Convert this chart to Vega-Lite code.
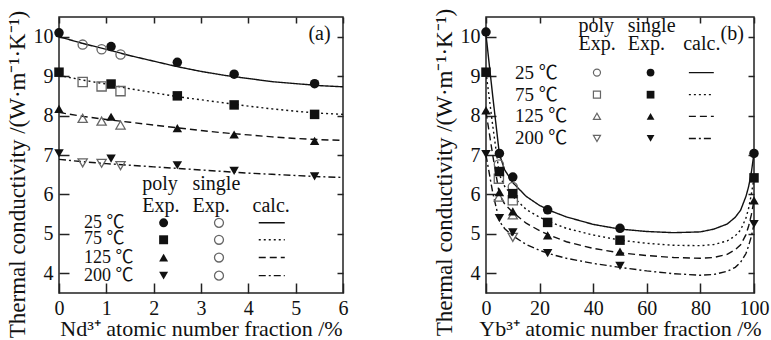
{
  "$schema": "https://vega.github.io/schema/vega-lite/v6.json",
  "padding": {"left": 5, "top": 7, "right": 5, "bottom": 0},
  "autosize": {"type": "pad"},
  "config": {
    "view": {"stroke": "#222", "strokeWidth": 1.5},
    "font": "Liberation Serif",
    "axis": {
      "labelFont": "Liberation Serif", "labelFontSize": 20, "labelColor": "#111",
      "titleFont": "Liberation Serif", "titleFontSize": 22, "titleFontWeight": "normal", "titleColor": "#111",
      "grid": false, "domain": false, "tickColor": "#222", "tickWidth": 1.5, "tickSize": -10, "labelPadding": 16,
      "labelFlush": false, "labelOverlap": false
    },
    "concat": {"spacing": 83}
  },
  "datasets": {
    "aPts": [
      {"x": 0, "y": 10.1, "T": "25", "k": "poly"}, {"x": 1.1, "y": 9.75, "T": "25", "k": "poly"}, {"x": 2.5, "y": 9.35, "T": "25", "k": "poly"}, {"x": 3.7, "y": 9.05, "T": "25", "k": "poly"}, {"x": 5.4, "y": 8.81, "T": "25", "k": "poly"},
      {"x": 0, "y": 9.1, "T": "75", "k": "poly"}, {"x": 1.1, "y": 8.8, "T": "75", "k": "poly"}, {"x": 2.5, "y": 8.5, "T": "75", "k": "poly"}, {"x": 3.7, "y": 8.27, "T": "75", "k": "poly"}, {"x": 5.4, "y": 8.03, "T": "75", "k": "poly"},
      {"x": 0, "y": 8.17, "T": "125", "k": "poly"}, {"x": 1.1, "y": 7.97, "T": "125", "k": "poly"}, {"x": 2.5, "y": 7.68, "T": "125", "k": "poly"}, {"x": 3.7, "y": 7.52, "T": "125", "k": "poly"}, {"x": 5.4, "y": 7.36, "T": "125", "k": "poly"},
      {"x": 0, "y": 7.04, "T": "200", "k": "poly"}, {"x": 1.1, "y": 6.91, "T": "200", "k": "poly"}, {"x": 2.5, "y": 6.74, "T": "200", "k": "poly"}, {"x": 3.7, "y": 6.6, "T": "200", "k": "poly"}, {"x": 5.4, "y": 6.46, "T": "200", "k": "poly"},
      {"x": 0.5, "y": 9.8, "T": "25", "k": "single"}, {"x": 0.9, "y": 9.68, "T": "25", "k": "single"}, {"x": 1.3, "y": 9.55, "T": "25", "k": "single"},
      {"x": 0.5, "y": 8.85, "T": "75", "k": "single"}, {"x": 0.9, "y": 8.74, "T": "75", "k": "single"}, {"x": 1.3, "y": 8.62, "T": "75", "k": "single"},
      {"x": 0.5, "y": 7.93, "T": "125", "k": "single"}, {"x": 0.9, "y": 7.86, "T": "125", "k": "single"}, {"x": 1.3, "y": 7.76, "T": "125", "k": "single"},
      {"x": 0.5, "y": 6.8, "T": "200", "k": "single"}, {"x": 0.9, "y": 6.79, "T": "200", "k": "single"}, {"x": 1.3, "y": 6.73, "T": "200", "k": "single"}
    ],
    "aCalc": [
      {"x": 0, "y": 10.0, "T": "25"}, {"x": 0.5, "y": 9.83, "T": "25"}, {"x": 1, "y": 9.68, "T": "25"}, {"x": 1.5, "y": 9.52, "T": "25"}, {"x": 2, "y": 9.38, "T": "25"}, {"x": 2.5, "y": 9.24, "T": "25"}, {"x": 3, "y": 9.12, "T": "25"}, {"x": 3.5, "y": 9.02, "T": "25"}, {"x": 4, "y": 8.94, "T": "25"}, {"x": 4.5, "y": 8.86, "T": "25"}, {"x": 5, "y": 8.81, "T": "25"}, {"x": 5.5, "y": 8.76, "T": "25"}, {"x": 6, "y": 8.73, "T": "25"},
      {"x": 0, "y": 9.02, "T": "75"}, {"x": 0.5, "y": 8.9, "T": "75"}, {"x": 1, "y": 8.8, "T": "75"}, {"x": 1.5, "y": 8.68, "T": "75"}, {"x": 2, "y": 8.58, "T": "75"}, {"x": 2.5, "y": 8.48, "T": "75"}, {"x": 3, "y": 8.4, "T": "75"}, {"x": 3.5, "y": 8.32, "T": "75"}, {"x": 4, "y": 8.24, "T": "75"}, {"x": 4.5, "y": 8.17, "T": "75"}, {"x": 5, "y": 8.11, "T": "75"}, {"x": 5.5, "y": 8.06, "T": "75"}, {"x": 6, "y": 8.03, "T": "75"},
      {"x": 0, "y": 8.08, "T": "125"}, {"x": 0.5, "y": 7.98, "T": "125"}, {"x": 1, "y": 7.9, "T": "125"}, {"x": 1.5, "y": 7.83, "T": "125"}, {"x": 2, "y": 7.76, "T": "125"}, {"x": 2.5, "y": 7.69, "T": "125"}, {"x": 3, "y": 7.62, "T": "125"}, {"x": 3.5, "y": 7.56, "T": "125"}, {"x": 4, "y": 7.51, "T": "125"}, {"x": 4.5, "y": 7.46, "T": "125"}, {"x": 5, "y": 7.42, "T": "125"}, {"x": 5.5, "y": 7.39, "T": "125"}, {"x": 6, "y": 7.37, "T": "125"},
      {"x": 0, "y": 6.89, "T": "200"}, {"x": 0.5, "y": 6.83, "T": "200"}, {"x": 1, "y": 6.78, "T": "200"}, {"x": 1.5, "y": 6.74, "T": "200"}, {"x": 2, "y": 6.7, "T": "200"}, {"x": 2.5, "y": 6.66, "T": "200"}, {"x": 3, "y": 6.62, "T": "200"}, {"x": 3.5, "y": 6.58, "T": "200"}, {"x": 4, "y": 6.54, "T": "200"}, {"x": 4.5, "y": 6.51, "T": "200"}, {"x": 5, "y": 6.48, "T": "200"}, {"x": 5.5, "y": 6.45, "T": "200"}, {"x": 6, "y": 6.43, "T": "200"}
    ],
    "aLegSym": [
      {"x": 2.21, "y": 5.28, "T": "25"}, {"x": 2.21, "y": 4.85, "T": "75"}, {"x": 2.21, "y": 4.4, "T": "125"}, {"x": 2.21, "y": 3.94, "T": "200"}
    ],
    "aLegOpen": [
      {"x": 3.38, "y": 5.28, "T": "25"}, {"x": 3.38, "y": 4.85, "T": "75"}, {"x": 3.38, "y": 4.4, "T": "125"}, {"x": 3.38, "y": 3.94, "T": "200"}
    ],
    "aLegLine": [
      {"x": 4.22, "y": 5.28, "T": "25"}, {"x": 4.77, "y": 5.28, "T": "25"},
      {"x": 4.22, "y": 4.85, "T": "75"}, {"x": 4.77, "y": 4.85, "T": "75"},
      {"x": 4.22, "y": 4.4, "T": "125"}, {"x": 4.77, "y": 4.4, "T": "125"},
      {"x": 4.22, "y": 3.94, "T": "200"}, {"x": 4.77, "y": 3.94, "T": "200"}
    ],
    "aHead": [
      {"x": 1.76, "y": 6.26, "t": "poly"}, {"x": 2.82, "y": 6.26, "t": "single"},
      {"x": 1.76, "y": 5.7, "t": "Exp."}, {"x": 2.82, "y": 5.7, "t": "Exp."}, {"x": 4.09, "y": 5.7, "t": "calc."},
      {"x": 5.27, "y": 10.07, "t": "(a)"}
    ],
    "aTemp": [
      {"x": 0.53, "y": 5.27, "t": "25 ℃"}, {"x": 0.53, "y": 4.86, "t": "75 ℃"}, {"x": 0.53, "y": 4.4, "t": "125 ℃"}, {"x": 0.53, "y": 3.94, "t": "200 ℃"}
    ],
    "bPts": [
      {"x": 0, "y": 10.12, "T": "25", "k": "single"}, {"x": 5, "y": 7.04, "T": "25", "k": "single"}, {"x": 10, "y": 6.44, "T": "25", "k": "single"}, {"x": 23, "y": 5.61, "T": "25", "k": "single"}, {"x": 50, "y": 5.14, "T": "25", "k": "single"}, {"x": 100, "y": 7.04, "T": "25", "k": "single"},
      {"x": 0, "y": 9.1, "T": "75", "k": "single"}, {"x": 5, "y": 6.58, "T": "75", "k": "single"}, {"x": 10, "y": 6.02, "T": "75", "k": "single"}, {"x": 23, "y": 5.29, "T": "75", "k": "single"}, {"x": 50, "y": 4.84, "T": "75", "k": "single"}, {"x": 100, "y": 6.42, "T": "75", "k": "single"},
      {"x": 0, "y": 8.13, "T": "125", "k": "single"}, {"x": 5, "y": 6.06, "T": "125", "k": "single"}, {"x": 10, "y": 5.57, "T": "125", "k": "single"}, {"x": 23, "y": 4.96, "T": "125", "k": "single"}, {"x": 50, "y": 4.55, "T": "125", "k": "single"}, {"x": 100, "y": 5.85, "T": "125", "k": "single"},
      {"x": 0, "y": 7.02, "T": "200", "k": "single"}, {"x": 5, "y": 5.4, "T": "200", "k": "single"}, {"x": 10, "y": 5.04, "T": "200", "k": "single"}, {"x": 23, "y": 4.51, "T": "200", "k": "single"}, {"x": 50, "y": 4.19, "T": "200", "k": "single"}, {"x": 100, "y": 5.25, "T": "200", "k": "single"},
      {"x": 4.8, "y": 6.76, "T": "25", "k": "poly"}, {"x": 10, "y": 6.19, "T": "25", "k": "poly"},
      {"x": 4.8, "y": 6.4, "T": "75", "k": "poly"}, {"x": 10, "y": 5.85, "T": "75", "k": "poly"},
      {"x": 4.8, "y": 5.93, "T": "125", "k": "poly"}, {"x": 10, "y": 5.48, "T": "125", "k": "poly"},
      {"x": 10, "y": 4.91, "T": "200", "k": "poly"}
    ],
    "bCalc": [
      {"x": 0, "y": 10.05, "T": "25"}, {"x": 2.5, "y": 8.5, "T": "25"}, {"x": 5, "y": 7.02, "T": "25"}, {"x": 7, "y": 6.62, "T": "25"}, {"x": 10, "y": 6.3, "T": "25"}, {"x": 15, "y": 5.95, "T": "25"}, {"x": 20, "y": 5.72, "T": "25"}, {"x": 25, "y": 5.56, "T": "25"}, {"x": 30, "y": 5.43, "T": "25"}, {"x": 40, "y": 5.24, "T": "25"}, {"x": 50, "y": 5.12, "T": "25"}, {"x": 60, "y": 5.06, "T": "25"}, {"x": 70, "y": 5.03, "T": "25"}, {"x": 80, "y": 5.05, "T": "25"}, {"x": 85, "y": 5.12, "T": "25"}, {"x": 90, "y": 5.25, "T": "25"}, {"x": 93, "y": 5.42, "T": "25"}, {"x": 95, "y": 5.6, "T": "25"}, {"x": 97, "y": 5.95, "T": "25"}, {"x": 98, "y": 6.2, "T": "25"}, {"x": 99, "y": 6.55, "T": "25"}, {"x": 100, "y": 7.05, "T": "25"},
      {"x": 0, "y": 9.1, "T": "75"}, {"x": 2.5, "y": 7.75, "T": "75"}, {"x": 5, "y": 6.5, "T": "75"}, {"x": 7, "y": 6.2, "T": "75"}, {"x": 10, "y": 5.95, "T": "75"}, {"x": 15, "y": 5.62, "T": "75"}, {"x": 20, "y": 5.42, "T": "75"}, {"x": 25, "y": 5.27, "T": "75"}, {"x": 30, "y": 5.14, "T": "75"}, {"x": 40, "y": 4.97, "T": "75"}, {"x": 50, "y": 4.84, "T": "75"}, {"x": 60, "y": 4.76, "T": "75"}, {"x": 70, "y": 4.71, "T": "75"}, {"x": 80, "y": 4.7, "T": "75"}, {"x": 85, "y": 4.73, "T": "75"}, {"x": 90, "y": 4.82, "T": "75"}, {"x": 93, "y": 4.95, "T": "75"}, {"x": 95, "y": 5.1, "T": "75"}, {"x": 97, "y": 5.4, "T": "75"}, {"x": 98, "y": 5.65, "T": "75"}, {"x": 99, "y": 6.0, "T": "75"}, {"x": 100, "y": 6.42, "T": "75"},
      {"x": 0, "y": 8.1, "T": "125"}, {"x": 2.5, "y": 7.0, "T": "125"}, {"x": 5, "y": 6.0, "T": "125"}, {"x": 7, "y": 5.75, "T": "125"}, {"x": 10, "y": 5.55, "T": "125"}, {"x": 15, "y": 5.27, "T": "125"}, {"x": 20, "y": 5.08, "T": "125"}, {"x": 25, "y": 4.93, "T": "125"}, {"x": 30, "y": 4.8, "T": "125"}, {"x": 40, "y": 4.63, "T": "125"}, {"x": 50, "y": 4.52, "T": "125"}, {"x": 60, "y": 4.45, "T": "125"}, {"x": 70, "y": 4.4, "T": "125"}, {"x": 80, "y": 4.38, "T": "125"}, {"x": 85, "y": 4.4, "T": "125"}, {"x": 90, "y": 4.48, "T": "125"}, {"x": 93, "y": 4.6, "T": "125"}, {"x": 95, "y": 4.72, "T": "125"}, {"x": 97, "y": 4.98, "T": "125"}, {"x": 98, "y": 5.2, "T": "125"}, {"x": 99, "y": 5.48, "T": "125"}, {"x": 100, "y": 5.85, "T": "125"},
      {"x": 0, "y": 7.0, "T": "200"}, {"x": 1, "y": 6.62, "T": "200"}, {"x": 2.5, "y": 6.05, "T": "200"}, {"x": 5, "y": 5.32, "T": "200"}, {"x": 7, "y": 5.13, "T": "200"}, {"x": 10, "y": 4.95, "T": "200"}, {"x": 15, "y": 4.73, "T": "200"}, {"x": 20, "y": 4.58, "T": "200"}, {"x": 25, "y": 4.47, "T": "200"}, {"x": 30, "y": 4.38, "T": "200"}, {"x": 40, "y": 4.25, "T": "200"}, {"x": 50, "y": 4.15, "T": "200"}, {"x": 60, "y": 4.06, "T": "200"}, {"x": 70, "y": 3.99, "T": "200"}, {"x": 80, "y": 3.95, "T": "200"}, {"x": 85, "y": 3.97, "T": "200"}, {"x": 90, "y": 4.05, "T": "200"}, {"x": 93, "y": 4.15, "T": "200"}, {"x": 95, "y": 4.28, "T": "200"}, {"x": 97, "y": 4.5, "T": "200"}, {"x": 98, "y": 4.7, "T": "200"}, {"x": 99, "y": 4.93, "T": "200"}, {"x": 100, "y": 5.25, "T": "200"}
    ],
    "bLegOpen": [
      {"x": 41.4, "y": 9.09, "T": "25"}, {"x": 41.4, "y": 8.53, "T": "75"}, {"x": 41.4, "y": 7.98, "T": "125"}, {"x": 41.4, "y": 7.42, "T": "200"}
    ],
    "bLegFill": [
      {"x": 61.4, "y": 9.09, "T": "25"}, {"x": 61.4, "y": 8.53, "T": "75"}, {"x": 61.4, "y": 7.98, "T": "125"}, {"x": 61.4, "y": 7.42, "T": "200"}
    ],
    "bLegLine": [
      {"x": 75.7, "y": 9.09, "T": "25"}, {"x": 85, "y": 9.09, "T": "25"},
      {"x": 75.7, "y": 8.53, "T": "75"}, {"x": 85, "y": 8.53, "T": "75"},
      {"x": 75.7, "y": 7.98, "T": "125"}, {"x": 85, "y": 7.98, "T": "125"},
      {"x": 75.7, "y": 7.42, "T": "200"}, {"x": 85, "y": 7.42, "T": "200"}
    ],
    "bHead": [
      {"x": 34.5, "y": 10.28, "t": "poly"}, {"x": 52.9, "y": 10.28, "t": "single"},
      {"x": 34.5, "y": 9.81, "t": "Exp."}, {"x": 52.9, "y": 9.81, "t": "Exp."}, {"x": 73.6, "y": 9.81, "t": "calc."},
      {"x": 87.5, "y": 10.07, "t": "(b)"}
    ],
    "bTemp": [
      {"x": 10.85, "y": 9.09, "t": "25 ℃"}, {"x": 10.85, "y": 8.53, "t": "75 ℃"}, {"x": 10.85, "y": 7.98, "t": "125 ℃"}, {"x": 10.85, "y": 7.42, "t": "200 ℃"}
    ]
  },
  "hconcat": [
    {
      "width": 284, "height": 276,
      "resolve": {"axis": {"x": "independent", "y": "independent"}},
      "layer": [
        {
          "data": {"name": "aCalc"},
          "mark": {"type": "line", "color": "#111", "strokeWidth": 1.4},
          "encoding": {
            "x": {"field": "x", "type": "quantitative", "scale": {"domain": [0, 6], "nice": false}, "axis": {"title": "Nd³⁺ atomic number fraction /%", "values": [0, 1, 2, 3, 4, 5, 6], "titlePadding": 0, "labelPadding": 15}},
            "y": {"field": "y", "type": "quantitative", "scale": {"domain": [3.5, 10.5], "nice": false, "zero": false}, "axis": {"title": "Thermal conductivity /(W·m⁻¹·K⁻¹)", "values": [4, 5, 6, 7, 8, 9, 10], "titleY": 157, "titlePadding": 4, "titleFontSize": 23}},
            "strokeDash": {"field": "T", "type": "nominal", "scale": {"domain": ["25", "75", "125", "200"], "range": [[1, 0], [2, 3], [7, 4], [7, 3, 2, 3]]}, "legend": null}
          }
        },
        {
          "data": {"name": "aPts"},
          "transform": [{"filter": "datum.k === 'poly'"}],
          "mark": {"type": "point", "filled": true, "color": "#111", "size": 90, "opacity": 1},
          "encoding": {
            "x": {"field": "x", "type": "quantitative", "axis": null},
            "y": {"field": "y", "type": "quantitative", "axis": null},
            "shape": {"field": "T", "type": "nominal", "scale": {"domain": ["25", "75", "125", "200"], "range": ["circle", "square", "triangle-up", "triangle-down"]}, "legend": null}
          }
        },
        {
          "data": {"name": "aPts"},
          "transform": [{"filter": "datum.k === 'single'"}],
          "mark": {"type": "point", "filled": false, "color": "#666", "strokeWidth": 1.3, "size": 85, "opacity": 1},
          "encoding": {
            "x": {"field": "x", "type": "quantitative", "axis": {"orient": "top", "labels": false, "title": null, "values": [0, 1, 2, 3, 4, 5, 6], "tickSize": -6}},
            "y": {"field": "y", "type": "quantitative", "axis": {"orient": "right", "labels": false, "title": null, "values": [4, 5, 6, 7, 8, 9, 10], "tickSize": -6}},
            "shape": {"field": "T", "type": "nominal", "scale": {"domain": ["25", "75", "125", "200"], "range": ["circle", "square", "triangle-up", "triangle-down"]}, "legend": null}
          }
        },
        {
          "data": {"name": "aLegSym"},
          "mark": {"type": "point", "filled": true, "color": "#111", "size": 80, "opacity": 1},
          "encoding": {
            "x": {"field": "x", "type": "quantitative", "axis": null},
            "y": {"field": "y", "type": "quantitative", "axis": null},
            "shape": {"field": "T", "type": "nominal", "scale": {"domain": ["25", "75", "125", "200"], "range": ["circle", "square", "triangle-up", "triangle-down"]}, "legend": null}
          }
        },
        {
          "data": {"name": "aLegOpen"},
          "mark": {"type": "point", "shape": "circle", "filled": false, "color": "#666", "strokeWidth": 1.3, "size": 80, "opacity": 1},
          "encoding": {
            "x": {"field": "x", "type": "quantitative", "axis": null},
            "y": {"field": "y", "type": "quantitative", "axis": null}
          }
        },
        {
          "data": {"name": "aLegLine"},
          "mark": {"type": "line", "color": "#111", "strokeWidth": 1.4},
          "encoding": {
            "x": {"field": "x", "type": "quantitative", "axis": null},
            "y": {"field": "y", "type": "quantitative", "axis": null},
            "strokeDash": {"field": "T", "type": "nominal", "scale": {"domain": ["25", "75", "125", "200"], "range": [[1, 0], [2, 3], [7, 4], [7, 3, 2, 3]]}, "legend": null}
          }
        },
        {
          "data": {"name": "aHead"},
          "mark": {"type": "text", "align": "left", "baseline": "middle", "font": "Liberation Serif", "fontSize": 20, "color": "#111"},
          "encoding": {
            "x": {"field": "x", "type": "quantitative", "axis": null},
            "y": {"field": "y", "type": "quantitative", "axis": null},
            "text": {"field": "t", "type": "nominal"}
          }
        },
        {
          "data": {"name": "aTemp"},
          "mark": {"type": "text", "align": "left", "baseline": "middle", "font": "Liberation Serif, Noto Sans CJK SC", "fontSize": 18, "color": "#111"},
          "encoding": {
            "x": {"field": "x", "type": "quantitative", "axis": null},
            "y": {"field": "y", "type": "quantitative", "axis": null},
            "text": {"field": "t", "type": "nominal"}
          }
        }
      ]
    },
    {
      "width": 268, "height": 276,
      "resolve": {"axis": {"x": "independent", "y": "independent"}},
      "layer": [
        {
          "data": {"name": "bCalc"},
          "mark": {"type": "line", "color": "#111", "strokeWidth": 1.4},
          "encoding": {
            "x": {"field": "x", "type": "quantitative", "scale": {"domain": [0, 100], "nice": false}, "axis": {"title": "Yb³⁺ atomic number fraction /%", "values": [0, 20, 40, 60, 80, 100], "titlePadding": 0, "labelPadding": 15}},
            "y": {"field": "y", "type": "quantitative", "scale": {"domain": [3.5, 10.5], "nice": false, "zero": false}, "axis": {"title": "Thermal conductivity /(W·m⁻¹·K⁻¹)", "values": [4, 5, 6, 7, 8, 9, 10], "titleY": 155, "titlePadding": 4, "titleFontSize": 23}},
            "strokeDash": {"field": "T", "type": "nominal", "scale": {"domain": ["25", "75", "125", "200"], "range": [[1, 0], [2, 3], [7, 4], [7, 3, 2, 3]]}, "legend": null}
          }
        },
        {
          "data": {"name": "bPts"},
          "transform": [{"filter": "datum.k === 'poly'"}],
          "mark": {"type": "point", "filled": false, "color": "#666", "strokeWidth": 1.3, "size": 85, "opacity": 1},
          "encoding": {
            "x": {"field": "x", "type": "quantitative", "axis": {"orient": "top", "labels": false, "title": null, "values": [0, 20, 40, 60, 80, 100], "tickSize": -6}},
            "y": {"field": "y", "type": "quantitative", "axis": {"orient": "right", "labels": false, "title": null, "values": [4, 5, 6, 7, 8, 9, 10], "tickSize": -6}},
            "shape": {"field": "T", "type": "nominal", "scale": {"domain": ["25", "75", "125", "200"], "range": ["circle", "square", "triangle-up", "triangle-down"]}, "legend": null}
          }
        },
        {
          "data": {"name": "bPts"},
          "transform": [{"filter": "datum.k === 'single'"}],
          "mark": {"type": "point", "filled": true, "color": "#111", "size": 90, "opacity": 1},
          "encoding": {
            "x": {"field": "x", "type": "quantitative", "axis": null},
            "y": {"field": "y", "type": "quantitative", "axis": null},
            "shape": {"field": "T", "type": "nominal", "scale": {"domain": ["25", "75", "125", "200"], "range": ["circle", "square", "triangle-up", "triangle-down"]}, "legend": null}
          }
        },
        {
          "data": {"name": "bLegOpen"},
          "mark": {"type": "point", "filled": false, "color": "#666", "strokeWidth": 1.2, "size": 50, "opacity": 1},
          "encoding": {
            "x": {"field": "x", "type": "quantitative", "axis": null},
            "y": {"field": "y", "type": "quantitative", "axis": null},
            "shape": {"field": "T", "type": "nominal", "scale": {"domain": ["25", "75", "125", "200"], "range": ["circle", "square", "triangle-up", "triangle-down"]}, "legend": null}
          }
        },
        {
          "data": {"name": "bLegFill"},
          "mark": {"type": "point", "filled": true, "color": "#111", "size": 60, "opacity": 1},
          "encoding": {
            "x": {"field": "x", "type": "quantitative", "axis": null},
            "y": {"field": "y", "type": "quantitative", "axis": null},
            "shape": {"field": "T", "type": "nominal", "scale": {"domain": ["25", "75", "125", "200"], "range": ["circle", "square", "triangle-up", "triangle-down"]}, "legend": null}
          }
        },
        {
          "data": {"name": "bLegLine"},
          "mark": {"type": "line", "color": "#111", "strokeWidth": 1.4},
          "encoding": {
            "x": {"field": "x", "type": "quantitative", "axis": null},
            "y": {"field": "y", "type": "quantitative", "axis": null},
            "strokeDash": {"field": "T", "type": "nominal", "scale": {"domain": ["25", "75", "125", "200"], "range": [[1, 0], [2, 3], [7, 4], [7, 3, 2, 3]]}, "legend": null}
          }
        },
        {
          "data": {"name": "bHead"},
          "mark": {"type": "text", "align": "left", "baseline": "middle", "font": "Liberation Serif", "fontSize": 20, "color": "#111"},
          "encoding": {
            "x": {"field": "x", "type": "quantitative", "axis": null},
            "y": {"field": "y", "type": "quantitative", "axis": null},
            "text": {"field": "t", "type": "nominal"}
          }
        },
        {
          "data": {"name": "bTemp"},
          "mark": {"type": "text", "align": "left", "baseline": "middle", "font": "Liberation Serif, Noto Sans CJK SC", "fontSize": 19, "color": "#111"},
          "encoding": {
            "x": {"field": "x", "type": "quantitative", "axis": null},
            "y": {"field": "y", "type": "quantitative", "axis": null},
            "text": {"field": "t", "type": "nominal"}
          }
        }
      ]
    }
  ]
}
